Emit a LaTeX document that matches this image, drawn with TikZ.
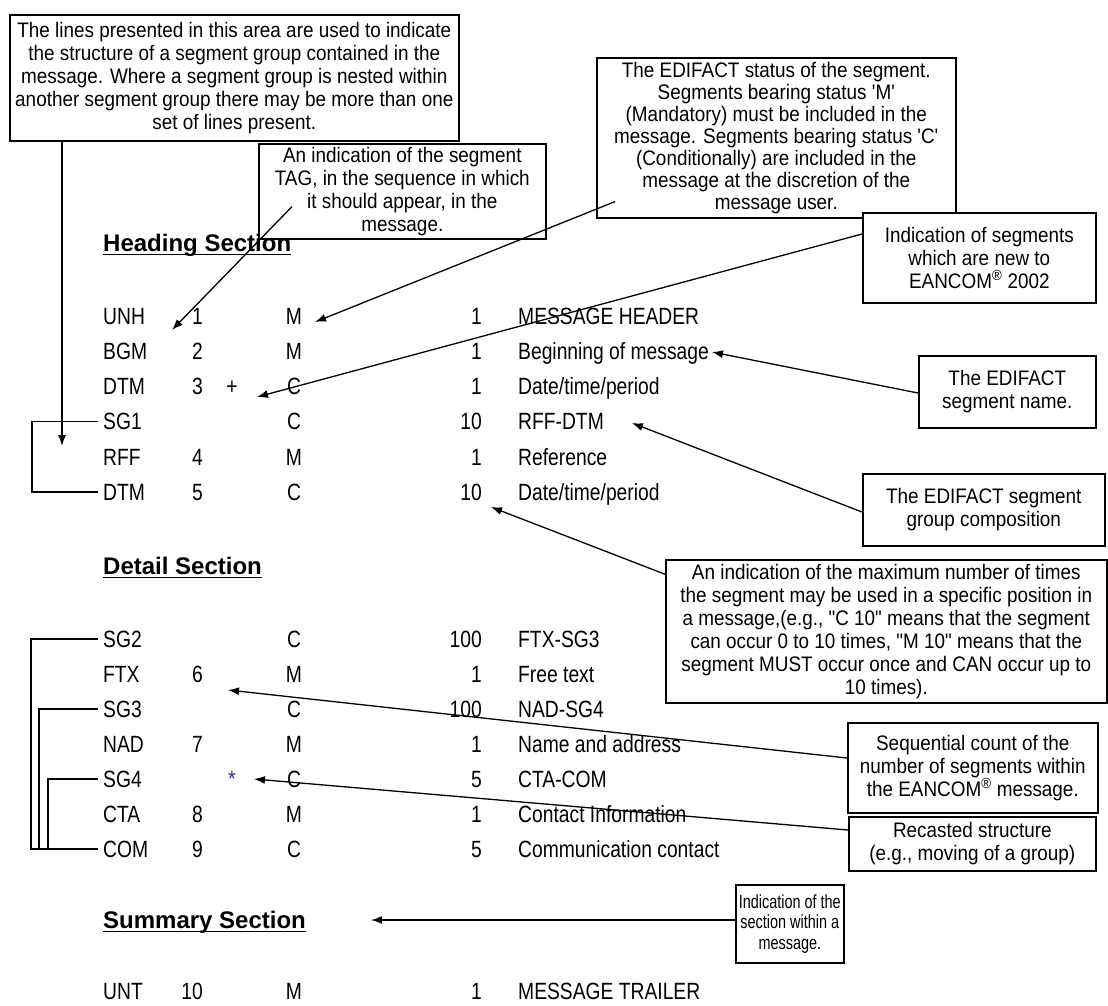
\documentclass[tikz,border=0pt]{standalone}
\usepackage{fontspec}
\setmainfont{Liberation Sans}
\newfontfamily\tabfont[FakeStretch=0.82]{Liberation Sans}
\newfontfamily\notefont[FakeStretch=0.9]{Liberation Sans}
\newfontfamily\slimfont[FakeStretch=0.76]{Liberation Sans}
\usetikzlibrary{arrows.meta,calc}

\definecolor{starblue}{RGB}{40,40,170}

\tikzset{
  note/.style={draw, line width=1.6pt, fill=white, align=center, anchor=north west,
    inner sep=0pt, font=\notefont\fontsize{21}{23}\selectfont},
  slimnote/.style={note, font=\slimfont\fontsize{19}{20.5}\selectfont},
  cell/.style={inner sep=0pt, font=\tabfont\fontsize{23.5}{28}\selectfont},
  secthead/.style={anchor=base west, inner sep=0pt, font=\bfseries\fontsize{24}{28}\selectfont},
  pointer/.style={line width=1.3pt, -{Latex[length=11pt,width=8pt]}},
  bracket/.style={line width=1.5pt},
}

% one row of the segment table
\newcommand{\segrow}[7]{%
  \node[cell, anchor=base west] (#1-tag) at (103,#2) {#3};
  \node[cell, anchor=base east] (#1-pos) at (203,#2) {#4};
  \node[cell, anchor=base] (#1-st) at (294,#2) {#5};
  \node[cell, anchor=base east] (#1-rep) at (482,#2) {#6};
  \node[cell, anchor=base west] (#1-desc) at (518,#2) {#7};
}

\begin{document}
\begin{tikzpicture}[x=1pt,y=-1pt]
    \useasboundingbox (0,0) rectangle (1108,1005);
    \fill[white] (0,0) rectangle (1108,1005);

    %section headings
    \node[secthead] (heading) at (103,251) {Heading Section};
    \node[secthead] (detail) at (103,574) {Detail Section};
    \node[secthead] (summary) at (103,928) {Summary Section};
    \foreach \s in {heading,detail,summary}
        \draw[line width=1.4pt] ([yshift=-3.5pt]\s.base west) -- ([yshift=-3.5pt]\s.base east);

    %heading rows
    \segrow{unh}{324}{UNH}{1}{M}{1}{MESSAGE HEADER}
    \segrow{bgm}{359}{BGM}{2}{M}{1}{Beginning of message}
    \segrow{dtmc}{394}{DTM}{3}{C}{1}{Date/time/period}
    \segrow{sgone}{429.5}{SG1}{}{C}{10}{RFF-DTM}
    \segrow{rff}{465}{RFF}{4}{M}{1}{Reference}
    \segrow{dtmf}{500}{DTM}{5}{C}{10}{Date/time/period}
    \node[cell, anchor=base] (plus) at (232,394) {+};

    %detail rows
    \segrow{sgtwo}{647}{SG2}{}{C}{100}{FTX-SG3}
    \segrow{ftx}{682}{FTX}{6}{M}{1}{Free text}
    \segrow{sgthree}{717}{SG3}{}{C}{100}{NAD-SG4}
    \segrow{nad}{752}{NAD}{7}{M}{1}{Name and address}
    \segrow{sgfour}{787}{SG4}{}{C}{5}{CTA-COM}
    \segrow{cta}{822}{CTA}{8}{M}{1}{Contact Information}
    \segrow{com}{857}{COM}{9}{C}{5}{Communication contact}
    \node[cell, anchor=base, text=starblue, font=\notefont\fontsize{22}{24}\selectfont] (star) at (232,786) {*};

    %summary row
    \segrow{unt}{999}{UNT}{10}{M}{1}{MESSAGE TRAILER}

    %group lines
    \draw[bracket] ([xshift=-5pt]sgone-tag.west) -- ++(-66,0) |- ([xshift=-5pt]dtmf-tag.west);
    \draw[bracket] ([xshift=-5pt]sgtwo-tag.west) -- ++(-67,0) |- ([xshift=-5pt]com-tag.west);
    \draw[bracket] ([xshift=-5pt]sgthree-tag.west) -- ++(-59,0) |- ([xshift=-5pt]com-tag.west);
    \draw[bracket] ([xshift=-5pt]sgfour-tag.west) -- ++(-50,0) |- ([xshift=-5pt]com-tag.west);

    %notes
    \node[note, minimum width=449, minimum height=126] (linesnote) at (9,14)
        {The lines presented in this area are used to indicate\\
         the structure of a segment group contained in the\\
         message.  Where a segment group is nested within\\
         another segment  group there may be more than one\\
         set of lines present.};
    \node[note, minimum width=287, minimum height=95] (tagnote) at (258,143)
        {An indication of the segment\\
         TAG, in the sequence in which\\
         it should appear, in the\\
         message.};
    \node[note, minimum width=359, minimum height=160, font=\notefont\fontsize{21}{22}\selectfont] (statusnote) at (596,57)
        {The EDIFACT status of the segment.\\
         Segments bearing status 'M'\\
         (Mandatory)  must be included in the\\
         message. Segments bearing status  'C'\\
         (Conditionally)  are included in the\\
         message at the discretion of the\\
         message user.};
    \node[note, minimum width=233, minimum height=90] (newnote) at (862,212)
        {Indication of segments\\
         which are new to\\
         EANCOM\textsuperscript{\textregistered} 2002};
    \node[note, minimum width=177, minimum height=72] (namenote) at (918,355)
        {The EDIFACT\\ segment name.};
    \node[note, minimum width=242, minimum height=72] (groupnote) at (862,473)
        {The EDIFACT segment\\ group composition};
    \node[note, minimum width=441, minimum height=143] (maxnote) at (665,559)
        {An indication of the maximum number of times\\
         the segment may be used in a specific position in\\
         a message,(e.g., "C 10" means that the segment\\
         can occur 0 to 10 times, "M 10" means that the\\
         segment MUST occur once and CAN occur up to\\
         10 times).};
    \node[note, minimum width=250, minimum height=90] (countnote) at (847,722)
        {Sequential count of the\\
         number of segments within\\
         the EANCOM\textsuperscript{\textregistered} message.};
    \node[note, minimum width=247, minimum height=54] (recastnote) at (848,816)
        {Recasted structure\\ (e.g., moving of a group)};
    \node[slimnote, minimum width=108, minimum height=78] (sectionnote) at (735,884)
        {Indication of the\\ section within a\\ message.};

    %arrow tips
    \coordinate (linestip) at (62,446);
    \coordinate (tagtip) at (172,330);
    \coordinate (statustip) at (315,322);
    \coordinate (newtip) at (257,397);
    \coordinate (nametip) at (712,352);
    \coordinate (grouptip) at (632,423);
    \coordinate (maxtip) at (491,507);
    \coordinate (counttip) at (228,690);
    \coordinate (recasttip) at (254,779);
    \coordinate (sectiontip) at (371,920);

    %arrows
    \draw[pointer] ($(linesnote.south west)+(53,0)$) -- (linestip);
    \draw[pointer] ($(tagnote.south west)+(34,-33)$) -- (tagtip);
    \draw[pointer] ($(statusnote.south west)+(19,-17)$) -- (statustip);
    \draw[pointer] ($(newnote.north west)+(0,22)$) -- (newtip);
    \draw[pointer] ($(namenote.north west)+(0,38)$) -- (nametip);
    \draw[pointer] ($(groupnote.north west)+(0,39)$) -- (grouptip);
    \draw[pointer] ($(maxnote.north west)+(2,16)$) -- (maxtip);
    \draw[pointer] ($(countnote.north west)+(0,36)$) -- (counttip);
    \draw[pointer] ($(recastnote.north west)+(0,14)$) -- (recasttip);
    \draw[pointer] ($(sectionnote.north west)+(0,36)$) -- (sectiontip);

\end{tikzpicture}
\end{document}
